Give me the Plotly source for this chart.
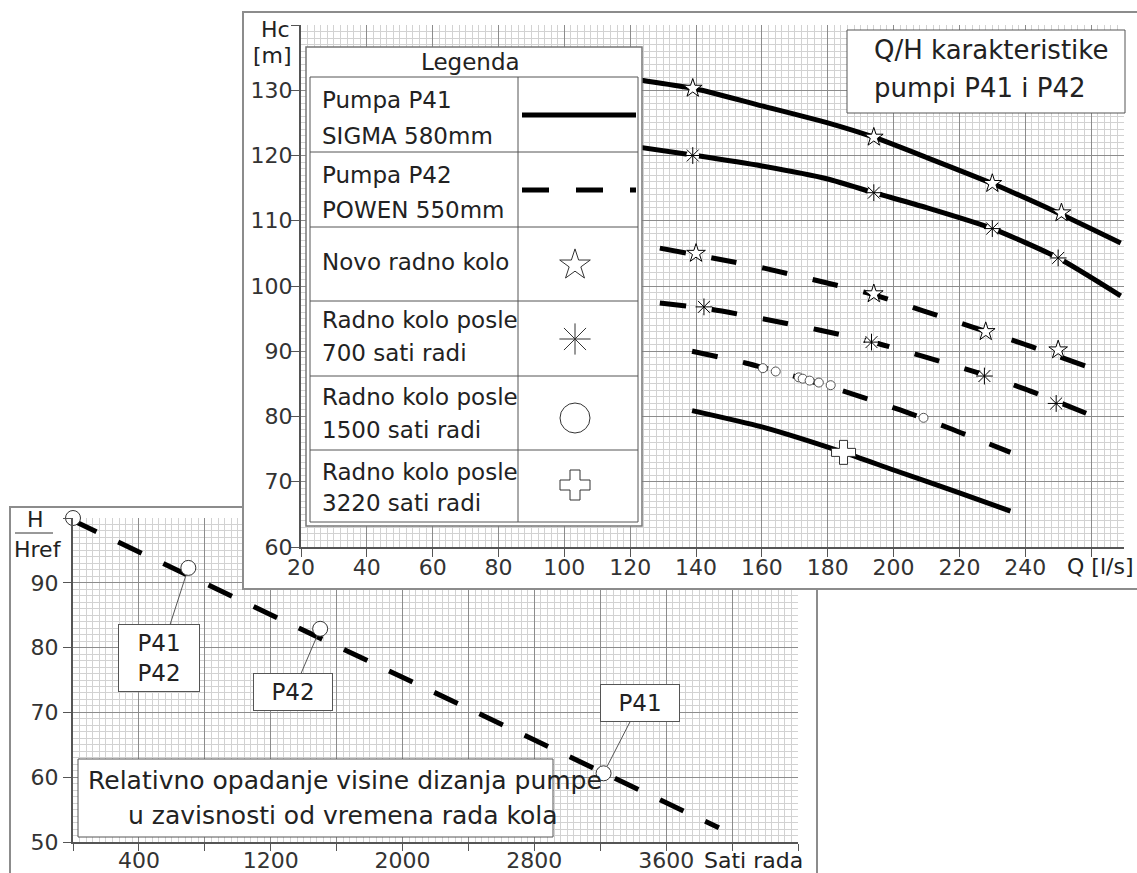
import plotly.graph_objects as go

W, H = 1137, 873
FONT = "DejaVu Sans"
TXT = "#222222"

# ---------------- upper chart: Q [l/s] vs Hc [m] ----------------
p41_new_q = [110, 140, 160, 180, 194, 210, 230, 250, 269]
p41_new_h = [132.5, 130.2, 127.6, 125.0, 122.8, 119.7, 115.7, 111.2, 106.6]
p41_700_q = [110, 140, 160, 180, 194, 210, 230, 250, 269]
p41_700_h = [122.2, 120.0, 118.4, 116.4, 114.3, 112.0, 108.8, 104.3, 98.5]
p41_3220_q = [138.8, 160, 184.8, 200, 220, 235.5]
p41_3220_h = [80.9, 78.4, 74.5, 71.8, 68.3, 65.5]
p42_new_q = [129, 145, 161, 177, 193, 209, 224, 239, 258.5]
p42_new_h = [105.8, 104.3, 102.7, 100.8, 98.8, 96.2, 93.7, 91.2, 87.7]
p42_700_q = [129, 145, 161, 177, 193, 209, 225, 240, 258.5]
p42_700_h = [97.4, 96.4, 94.9, 93.3, 91.5, 89.2, 86.8, 84.2, 80.5]
p42_1500_q = [138.8, 155, 171, 186, 202, 217, 235.5]
p42_1500_h = [90.0, 88.2, 86.0, 83.7, 81.0, 78.2, 74.5]

star_q = [139, 194, 230, 251, 140, 194, 228, 250]
star_h = [130.3, 122.8, 115.7, 111.2, 105.0, 98.8, 93.0, 90.2]
aster_q = [139, 194, 230, 250, 142.4, 193.3, 227.6, 249.4]
aster_h = [120.0, 114.3, 108.8, 104.3, 96.8, 91.4, 86.2, 82.0]
circ_q = [160.3, 164.2, 171.2, 172.4, 174.5, 177.3, 180.9, 209.1]
circ_h = [87.4, 86.9, 86.0, 85.8, 85.5, 85.2, 84.8, 79.8]
cross_q = [184.8]
cross_h = [74.5]

q_ticks = [20, 40, 60, 80, 100, 120, 140, 160, 180, 200, 220, 240]
hc_ticks = [60, 70, 80, 90, 100, 110, 120, 130]

# ---------------- lower chart: hours vs H/Href ----------------
hours = [0, 700, 1500, 3220]
h_rel = [100, 92.3, 82.9, 60.6]
trend_hours = [0, 3920]
trend_h = [99.6, 52.2]
hour_ticks = [400, 1200, 2000, 2800, 3600]
hrel_ticks = [50, 60, 70, 80, 90]

legend_rows = [
    ("Pumpa P41", "SIGMA 580mm"),
    ("Pumpa P42", "POWEN 550mm"),
    ("Novo radno kolo", None),
    ("Radno kolo posle", "700 sati radi"),
    ("Radno kolo posle", "1500 sati radi"),
    ("Radno kolo posle", "3220 sati radi"),
]


def px(p):
    return p / W


def py(p):
    return 1 - p / H


fig = go.Figure()

# ---- lower chart traces
fig.add_trace(go.Scatter(x=trend_hours, y=trend_h, mode="lines",
                         line=dict(color="black", width=5, dash="26px,24px"),
                         xaxis="x", yaxis="y", hoverinfo="skip"))
fig.add_trace(go.Scatter(x=hours, y=h_rel, mode="markers", cliponaxis=False,
                         marker=dict(symbol="circle", size=15, color="white",
                                     line=dict(color="#333", width=1)),
                         xaxis="x", yaxis="y"))

# ---- panel (background box of upper chart)
fig.add_trace(go.Scatter(x=[], y=[], xaxis="x2", yaxis="y2"))

# ---- upper chart traces
solid = dict(color="black", width=5)
dashed = dict(color="black", width=5, dash="26px,26px")
for q, h, ln in [(p41_new_q, p41_new_h, solid), (p41_700_q, p41_700_h, solid),
                 (p41_3220_q, p41_3220_h, solid), (p42_new_q, p42_new_h, dashed),
                 (p42_700_q, p42_700_h, dashed), (p42_1500_q, p42_1500_h, dashed)]:
    fig.add_trace(go.Scatter(x=q, y=h, mode="lines", line=dict(shape="spline", smoothing=0.6, **ln),
                             xaxis="x3", yaxis="y3", hoverinfo="skip"))

fig.add_trace(go.Scatter(x=star_q, y=star_h, mode="markers", xaxis="x3", yaxis="y3",
                         marker=dict(symbol="star", size=14, color="white",
                                     line=dict(color="black", width=1))))
fig.add_trace(go.Scatter(x=aster_q, y=aster_h, mode="markers", xaxis="x3", yaxis="y3",
                         marker=dict(symbol="circle", size=13, color="white", line=dict(width=0))))
fig.add_trace(go.Scatter(x=aster_q, y=aster_h, mode="markers", xaxis="x3", yaxis="y3",
                         marker=dict(symbol="asterisk-open", size=14, color="black",
                                     line=dict(color="#222", width=1))))
fig.add_trace(go.Scatter(x=circ_q, y=circ_h, mode="markers", xaxis="x3", yaxis="y3",
                         marker=dict(symbol="circle", size=9, color="white",
                                     line=dict(color="#555", width=1))))
fig.add_trace(go.Scatter(x=cross_q, y=cross_h, mode="markers", xaxis="x3", yaxis="y3",
                         marker=dict(symbol="cross", size=20, color="white",
                                     line=dict(color="#333", width=1))))

# ---- legend table subplot (axes in page pixels)
leg_x = 575
leg_y = [265, 339, 418, 485]
fig.add_trace(go.Scatter(x=[leg_x], y=[leg_y[0]], mode="markers", xaxis="x4", yaxis="y4",
                         marker=dict(symbol="star", size=23, color="white",
                                     line=dict(color="#333", width=1))))
fig.add_trace(go.Scatter(x=[leg_x], y=[leg_y[1]], mode="markers", xaxis="x4", yaxis="y4",
                         marker=dict(symbol="asterisk-open", size=26, color="#333",
                                     line=dict(color="#333", width=1))))
fig.add_trace(go.Scatter(x=[leg_x], y=[leg_y[2]], mode="markers", xaxis="x4", yaxis="y4",
                         marker=dict(symbol="circle", size=30, color="white",
                                     line=dict(color="#333", width=1))))
fig.add_trace(go.Scatter(x=[leg_x], y=[leg_y[3]], mode="markers", xaxis="x4", yaxis="y4",
                         marker=dict(symbol="cross", size=25, color="white",
                                     line=dict(color="#333", width=1))))

tickfont = dict(family=FONT, size=22, color="#333")
MAJ = "#8c8c8c"
MIN = "#d2d2d2"
AX = "#555"

lower_x_vals = list(range(0, 4401, 400))
lower_y_vals = list(range(50, 101, 10))
upper_x_vals = list(range(20, 261, 20))
upper_y_vals = list(range(60, 141, 10))

fig.update_layout(
    width=W, height=H, autosize=False,
    margin=dict(l=0, r=0, t=0, b=0, pad=0, autoexpand=False),
    paper_bgcolor="white", plot_bgcolor="white",
    showlegend=False,
    font=dict(family=FONT, size=22, color=TXT),
    xaxis=dict(domain=[px(73), px(798)], range=[0, 4400], anchor="y", automargin=False,
               tickmode="array", tickvals=lower_x_vals,
               ticktext=[str(v) if v in hour_ticks else "" for v in lower_x_vals],
               ticks="outside", ticklen=7, tickcolor=AX, tickfont=tickfont,
               ticklabelstandoff=-9,
               showline=True, linecolor=AX, linewidth=2, zeroline=False,
               showgrid=True, gridcolor=MAJ, gridwidth=1,
               minor=dict(tickmode="linear", tick0=0, dtick=40, showgrid=True,
                          gridcolor=MIN, gridwidth=1)),
    yaxis=dict(domain=[py(842), py(518)], range=[50, 100], anchor="x", automargin=False,
               tickmode="array", tickvals=lower_y_vals,
               ticktext=[str(v) if v in hrel_ticks else "" for v in lower_y_vals],
               ticks="outside", ticklen=8, tickcolor=AX, tickfont=tickfont,
               showline=True, linecolor=AX, linewidth=2, zeroline=False,
               showgrid=True, gridcolor=MAJ, gridwidth=1,
               minor=dict(tickmode="linear", tick0=0, dtick=1, showgrid=True,
                          gridcolor=MIN, gridwidth=1)),
    xaxis2=dict(domain=[px(244), 1.0], range=[0, 1], anchor="y2", automargin=False,
                showgrid=False, zeroline=False, showticklabels=False, ticks="",
                showline=True, mirror=True, linecolor="#8c8c8c", linewidth=2),
    yaxis2=dict(domain=[py(588), py(13)], range=[0, 1], anchor="x2", automargin=False,
                showgrid=False, zeroline=False, showticklabels=False, ticks="",
                showline=True, mirror=True, linecolor="#8c8c8c", linewidth=2),
    xaxis3=dict(domain=[px(301), px(1124)], range=[20, 270], anchor="y3", automargin=False,
                tickmode="array", tickvals=upper_x_vals,
                ticktext=[str(v) if v in q_ticks else "" for v in upper_x_vals],
                ticks="outside", ticklen=8, tickcolor=AX, tickfont=tickfont,
                ticklabelstandoff=-8,
                showline=True, linecolor=AX, linewidth=2, zeroline=False,
                showgrid=True, gridcolor=MAJ, gridwidth=1,
                minor=dict(tickmode="linear", tick0=0, dtick=2, showgrid=True,
                           gridcolor=MIN, gridwidth=1)),
    yaxis3=dict(domain=[py(547), py(25)], range=[60, 140], anchor="x3", automargin=False,
                tickmode="array", tickvals=upper_y_vals,
                ticktext=[str(v) if v in hc_ticks else "" for v in upper_y_vals],
                ticks="outside", ticklen=8, tickcolor=AX, tickfont=tickfont,
                ticklabelstandoff=-6,
                showline=True, linecolor=AX, linewidth=2, zeroline=False,
                showgrid=True, gridcolor=MAJ, gridwidth=1,
                minor=dict(tickmode="linear", tick0=0, dtick=1, showgrid=True,
                           gridcolor=MIN, gridwidth=1)),
    xaxis4=dict(domain=[px(306), px(642)], range=[306, 642], anchor="y4", automargin=False,
                visible=False, showgrid=False, zeroline=False),
    yaxis4=dict(domain=[py(526), py(47)], range=[526, 47], anchor="x4", automargin=False,
                visible=False, showgrid=False, zeroline=False),
)

shapes = []


def rect(x0, y0, x1, y1, color="#555", width=1, fill=None, layer="above"):
    d = dict(type="rect", xref="paper", yref="paper", x0=px(x0), x1=px(x1),
             y0=py(y1), y1=py(y0), line=dict(color=color, width=width), layer=layer)
    if fill:
        d["fillcolor"] = fill
    shapes.append(d)


def hline(x0, x1, y, color="#555", width=1, dash=None):
    ln = dict(color=color, width=width)
    if dash:
        ln["dash"] = dash
    shapes.append(dict(type="line", xref="paper", yref="paper", x0=px(x0), x1=px(x1),
                       y0=py(y), y1=py(y), line=ln, layer="above"))


def vline(x, y0, y1, color="#555", width=1):
    shapes.append(dict(type="line", xref="paper", yref="paper", x0=px(x), x1=px(x),
                       y0=py(y0), y1=py(y1), line=dict(color=color, width=width), layer="above"))


# lower panel frame
rect(10, 507, 817, 880, color="#8c8c8c", width=2, layer="below")
# legend table
rect(306, 47, 642, 526, color="#777", width=1.5)
rect(310, 77, 638, 522, color="#555", width=1)
vline(518, 77, 522)
row_edges = [77, 152, 227, 301, 376, 450, 522]
for yy in row_edges[1:-1]:
    hline(310, 638, yy)
hline(522, 636, 115, color="black", width=5)
hline(522, 636, 190, color="black", width=5, dash="27px,27px")
# title box
rect(847, 30, 1125, 113, color="#555", width=1, fill="white")
# lower text box
rect(78, 759, 553, 837, color="#555", width=1, fill="white")
# fraction bar H / Href
hline(15, 53, 533, color="#333", width=1)

fig.update_layout(shapes=shapes)

ann = []


def text(t, x, y, xanchor="center", size=22):
    ann.append(dict(text=t, x=px(x), y=py(y), xref="paper", yref="paper",
                    xanchor=xanchor, yanchor="middle", showarrow=False,
                    font=dict(family=FONT, size=size, color=TXT)))


text("Legenda", 470, 62, size=23)
row_text_y = [(100, 136), (175, 210), (262, None), (320, 353), (397, 430), (472, 503)]
for (l1, l2), (y1, y2) in zip(legend_rows, row_text_y):
    text(l1, 320, y1, xanchor="left", size=23)
    if l2:
        text(l2, 320, y2, xanchor="left", size=23)
text("Q/H karakteristike", 872, 50, xanchor="left", size=26)
text("pumpi P41 i P42", 872, 88, xanchor="left", size=26)
text("Hc", 275, 30)
text("[m]", 272, 55)
text("Q [l/s]", 1100, 566)
text("H", 35, 519)
text("Href", 38, 549)
text("Sati rada", 753, 860)
text("Relativno opadanje visine dizanja pumpe", 345, 780, size=25)
text("u zavisnosti od vremena rada kola", 343, 815, size=25)

callouts = [("P41<br>P42", hours[1], h_rel[1], -29, 90, 70),
            ("P42", hours[2], h_rel[2], -27, 63, 68),
            ("P41", hours[3], h_rel[3], 36, -70, 68)]
for t, xv, yv, axo, ayo, wd in callouts:
    ann.append(dict(text=t, x=xv, y=yv, xref="x", yref="y", ax=axo, ay=ayo, width=wd,
                    showarrow=True, arrowhead=0, arrowwidth=1, arrowcolor="#555",
                    standoff=8, bgcolor="white", bordercolor="#555", borderwidth=1,
                    borderpad=5, font=dict(family=FONT, size=23, color=TXT)))

fig.update_layout(annotations=ann)

fig.write_html("out.html", config={"displayModeBar": False},
               post_script="document.body.style.margin='0';document.body.style.overflow='hidden';")
